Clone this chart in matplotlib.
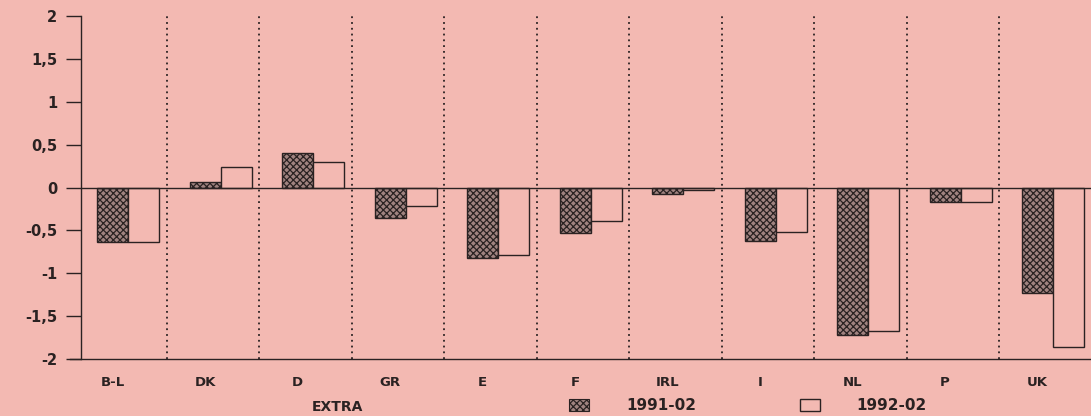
import matplotlib
matplotlib.use("Agg")
import matplotlib.pyplot as plt
import numpy as np
from matplotlib.patches import Patch

COUNTRIES = ["B-L", "DK", "D", "GR", "E", "F", "IRL", "I", "NL", "P", "UK"]
VALUES_1991 = [-0.64, 0.06, 0.40, -0.36, -0.82, -0.53, -0.07, -0.62, -1.72, -0.17, -1.23]
VALUES_1992 = [-0.63, 0.24, 0.30, -0.22, -0.79, -0.39, -0.03, -0.52, -1.67, -0.17, -1.86]
Y_TICKS = [2, 1.5, 1, 0.5, 0, -0.5, -1, -1.5, -2]
Y_LABELS = ["2", "1,5", "1", "0,5", "0", "-0,5", "-1", "-1,5", "-2"]
SERIES_LABELS = ["1991-02", "1992-02"]

BG = "#f3b9b2"
INK = "#2a2222"
SHADE = "#a08380"

plt.rcParams["font.family"] = ["DejaVu Sans"]
plt.rcParams["font.weight"] = "bold"
plt.rcParams["hatch.linewidth"] = 0.9

fig = plt.figure(figsize=(10.91, 4.16), dpi=100, facecolor=BG)
ax = fig.add_axes([0.0742, 0.137, 0.9258, 0.824])
ax.set_facecolor(BG)

x = np.arange(len(COUNTRIES))
width = 0.335
ax.bar(x - width / 2, VALUES_1991, width, facecolor=SHADE, edgecolor=INK,
       hatch="xxxxx", linewidth=1.0, zorder=3)
ax.bar(x + width / 2, VALUES_1992, width, facecolor=BG, edgecolor=INK,
       linewidth=1.0, zorder=3)

# dotted separators between countries
for xi in x[:-1]:
    ax.plot([xi + 0.42, xi + 0.42], [-2.0, 2.0], linestyle=(0, (1, 2.2)),
            color=INK, linewidth=1.3, zorder=2)

ax.axhline(0, color=INK, linewidth=1.0, zorder=4)

ax.set_xlim(-0.51, 10.41)
ax.set_ylim(-2, 2)
ax.set_yticks(Y_TICKS)
ax.set_yticklabels(Y_LABELS, fontsize=10.5, fontweight="bold", color=INK)
ax.set_xticks(x - width / 2)
ax.set_xticklabels(COUNTRIES, fontsize=9.5, fontweight="bold", color=INK)
ax.tick_params(axis="x", length=0, pad=12)
ax.tick_params(axis="y", direction="out", length=11, width=1.0, color=INK, pad=6)

for side in ["top", "right"]:
    ax.spines[side].set_visible(False)
ax.spines["left"].set_color(INK)
ax.spines["bottom"].set_color(INK)
ax.spines["left"].set_linewidth(1.0)
ax.spines["bottom"].set_linewidth(1.0)
ax.spines["bottom"].set_bounds(-0.63, 10.41)
ax.spines["bottom"].set_clip_on(False)

fig.text(337 / 1091, 1 - 407 / 416, "EXTRA", ha="center", va="center",
         fontsize=10, fontweight="bold", color=INK)

handles = [
    Patch(facecolor=SHADE, edgecolor=INK, hatch="xxxxx", linewidth=0.8),
    Patch(facecolor=BG, edgecolor=INK, linewidth=1.0),
]
leg = fig.legend(handles, SERIES_LABELS, loc="center", bbox_to_anchor=(748 / 1091, 1 - 406 / 416),
                 ncol=2, frameon=False, handlelength=1.3, handleheight=0.8,
                 handletextpad=2.4, columnspacing=6.8, prop={"weight": "bold", "size": 11})
for text in leg.get_texts():
    text.set_color(INK)

fig.savefig("out.png", dpi=100, facecolor=BG)
